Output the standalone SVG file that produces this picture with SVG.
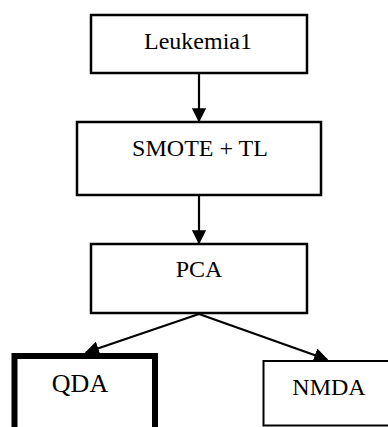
<svg xmlns="http://www.w3.org/2000/svg" width="388" height="427" viewBox="0 0 388 427">
<defs>
<style>
.box{fill:#fff;stroke:#000;stroke-width:2.5}
.lbl{font-family:"Liberation Serif","Times New Roman",serif;font-size:24px;fill:#000;text-anchor:middle}
.conn{stroke:#000;stroke-width:2.2;fill:none;marker-end:url(#ah)}
</style>
<marker id="ah" viewBox="0 0 10 10" refX="9" refY="5" markerWidth="6.5" markerHeight="6.5" markerUnits="strokeWidth" orient="auto">
<path d="M0,0 L10,5 L0,10 z" fill="#000"/>
</marker>
</defs>
<rect width="388" height="427" fill="#fff"/>
<g id="connectors">
<line class="conn" x1="199" y1="74" x2="199" y2="121"/>
<line class="conn" x1="199" y1="196" x2="199" y2="243"/>
<line class="conn" x1="199" y1="314" x2="86" y2="352.5"/>
<line class="conn" x1="199" y1="314" x2="327" y2="359.5"/>
</g>
<g id="leukemia1">
<rect class="box" x="91" y="15" width="216" height="58"/>
<text class="lbl" x="198" y="49">Leukemia1</text>
</g>
<g id="smote-tl">
<rect class="box" x="77" y="122" width="244" height="73"/>
<text class="lbl" x="200" y="156">SMOTE + TL</text>
</g>
<g id="pca">
<rect class="box" x="91" y="244" width="216" height="69"/>
<text class="lbl" x="199" y="277">PCA</text>
</g>
<g id="qda">
<rect x="14.5" y="356" width="140.5" height="80" fill="#fff" stroke="#000" stroke-width="6"/>
<text class="lbl" x="80" y="392" style="font-size:26px">QDA</text>
</g>
<g id="nmda">
<rect x="263.5" y="361" width="135" height="64.5" fill="#fff" stroke="#000" stroke-width="2"/>
<text class="lbl" x="329" y="395">NMDA</text>
</g>
</svg>
